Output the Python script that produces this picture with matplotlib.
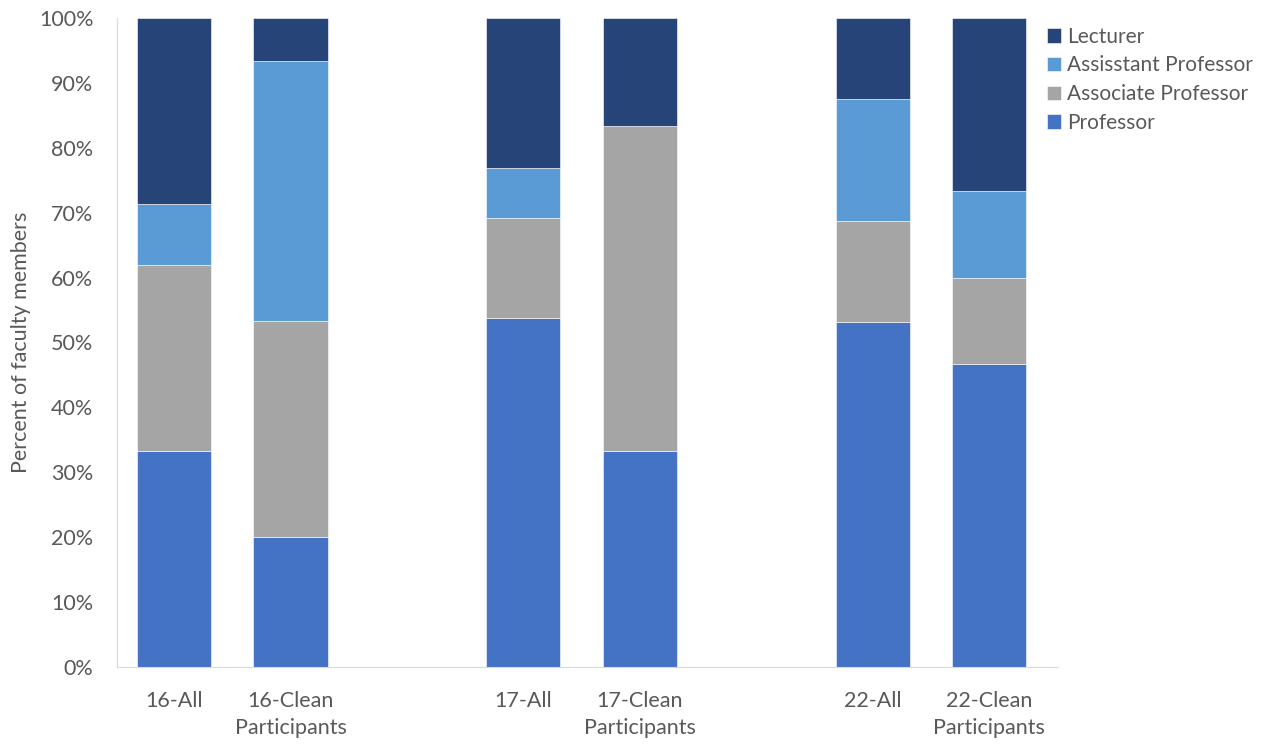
import matplotlib
matplotlib.use("Agg")
import matplotlib.pyplot as plt
from matplotlib.ticker import PercentFormatter

plt.rcParams['font.family'] = ['Lato', 'DejaVu Sans']

categories = ["16-All", "16-Clean\nParticipants", "17-All", "17-Clean\nParticipants",
              "22-All", "22-Clean\nParticipants"]
slots = [0, 1, 3, 4, 6, 7]

professor = [33.3, 20.0, 53.8, 33.3, 53.1, 46.7]
associate = [28.6, 33.3, 15.4, 50.0, 15.6, 13.3]
assistant = [9.5, 40.0, 7.7, 0.0, 18.8, 13.3]
lecturer = [28.6, 6.7, 23.1, 16.7, 12.5, 26.7]

series = [("Professor", professor, "#4472C4"),
          ("Associate Professor", associate, "#A5A5A5"),
          ("Assisstant Professor", assistant, "#5B9BD5"),
          ("Lecturer", lecturer, "#264478")]

fig = plt.figure(figsize=(12.77, 7.45), dpi=100)
ax = fig.add_axes([117/1277, 1-667/745, (1058-117)/1277, (667-18)/745])

bottom = [0]*len(slots)
handles = []
for name, vals, col in series:
    b = ax.bar(slots, vals, width=0.636, bottom=bottom, color=col, label=name,
               edgecolor='white', linewidth=0.4)
    handles.append(b)
    bottom = [a + v for a, v in zip(bottom, vals)]

ax.set_xlim(-0.49, 7.59)
ax.set_ylim(0, 100)
ax.set_yticks(range(0, 101, 10))
ax.yaxis.set_major_formatter(PercentFormatter(decimals=0))
ax.set_xticks(slots)
ax.set_xticklabels(categories, linespacing=1.45)
ax.tick_params(axis='both', length=0, labelsize=15.5, colors='#595959')
ax.tick_params(axis='y', pad=17)
ax.tick_params(axis='x', pad=17)
ax.set_ylabel("Percent of faculty members", fontsize=15.5, color='#595959', labelpad=6)

for s in ['top', 'right']:
    ax.spines[s].set_visible(False)
for s in ['left', 'bottom']:
    ax.spines[s].set_color('#D9D9D9')

leg = fig.legend(handles[::-1], [h.get_label() for h in handles[::-1]],
                 loc='upper left', bbox_to_anchor=(1032/1277, 1-12/745),
                 frameon=False, fontsize=15, handlelength=0.7, handleheight=0.7,
                 handletextpad=0.3, labelspacing=0.42, borderpad=0.2,
                 labelcolor='#595959')

fig.savefig("out.png", dpi=100)
